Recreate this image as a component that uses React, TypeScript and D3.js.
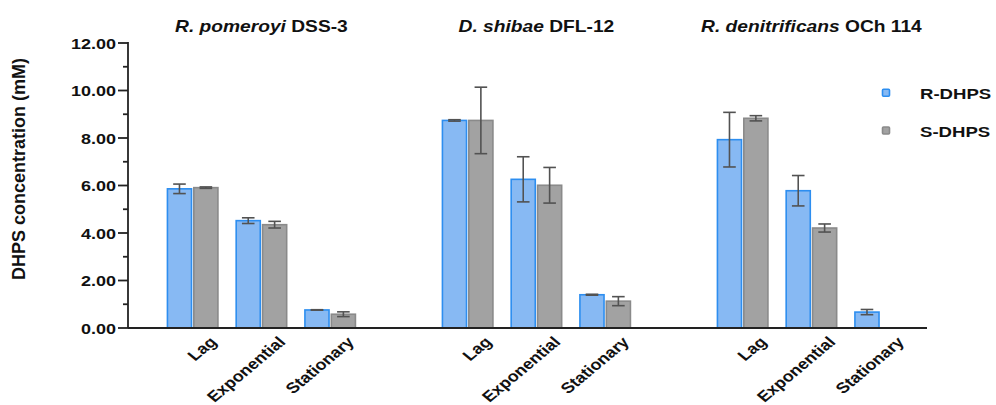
import React from "react";
import * as d3 from "d3";

const W = 996;
const H = 405;
const SX = 1.2; // the original figure is stretched horizontally

const strainItalic = ["R. pomeroyi", "D. shibae", "R. denitrificans"];
const strainCode = ["DSS-3", "DFL-12", "OCh 114"];
const phases = ["Lag", "Exponential", "Stationary"];
const seriesNames = ["R-DHPS", "S-DHPS"];

// values per strain x phase, in the order of strains then phases
const rMean = [5.86, 4.52, 0.76, 8.74, 6.26, 1.4, 7.93, 5.78, 0.67];
const rErr = [0.2, 0.12, 0.01, 0.03, 0.95, 0.02, 1.15, 0.64, 0.11];
const sMean = [5.91, 4.35, 0.58, 8.74, 6.01, 1.13, 8.83, 4.21, 0.0];
const sErr = [0.03, 0.14, 0.1, 1.4, 0.75, 0.19, 0.11, 0.17, 0.0];

const yTicks = [0, 2, 4, 6, 8, 10, 12];
const yMinor = [1, 3, 5, 7, 9, 11];

const FILLS = ["#87b9f3", "#a2a2a2"];
const STROKES = ["#2d8ef0", "#8a8a8a"];
const FONT = "'Liberation Sans', Arial, sans-serif";

function SText({ x, y, rotate = 0, anchor = "start", size = 16, sx = SX, children }: any) {
  return (
    <text
      transform={`translate(${x},${y}) scale(${sx},1) rotate(${rotate})`}
      textAnchor={anchor}
      fontSize={size}
      fontWeight="bold"
      fontFamily={FONT}
      fill="#111"
    >
      {children}
    </text>
  );
}

export default function App() {
  const axisX = 128;
  const axisEnd = 927;

  const y = d3.scaleLinear().domain([0, 12]).range([328, 43]);

  const xGroup = d3.scaleBand().domain(strainCode).range([158.3, 158.3 + 275 * 3]);
  const xPhase = d3.scaleBand().domain(phases).range([0, (xGroup.bandwidth() * 3) / 4]);
  const xSub = d3.scaleBand().domain(seriesNames).range([-26, 26]).paddingInner(0.03);

  const means = [rMean, sMean];
  const errs = [rErr, sErr];

  const bars: any[] = [];
  const errorBars: any[] = [];
  strainCode.forEach((code, gi) => {
    phases.forEach((ph, pi) => {
      const idx = gi * 3 + pi;
      const cx = (xGroup(code) || 0) + (xPhase(ph) || 0) + xPhase.bandwidth() / 2;
      seriesNames.forEach((s, si) => {
        const v = means[si][idx];
        const e = errs[si][idx];
        const bx = cx + (xSub(s) || 0);
        const bw = xSub.bandwidth();
        bars.push(
          <rect
            key={`b-${idx}-${si}`}
            x={bx + 0.75}
            y={y(v)}
            width={bw - 1.5}
            height={y(0) - y(v)}
            fill={FILLS[si]}
            stroke={STROKES[si]}
            strokeWidth={1.6}
          />
        );
        if (e > 0) {
          const mx = bx + bw / 2;
          errorBars.push(
            <g key={`e-${idx}-${si}`} stroke="#525252" strokeWidth={1.6}>
              <line x1={mx} x2={mx} y1={y(v + e)} y2={y(v - e)} />
              <line x1={mx - 6.3} x2={mx + 6.3} y1={y(v + e)} y2={y(v + e)} />
              <line x1={mx - 6.3} x2={mx + 6.3} y1={y(v - e)} y2={y(v - e)} />
            </g>
          );
        }
      });
    });
  });

  return (
    <svg
      width={W}
      height={H}
      style={{ position: "absolute", left: 0, top: 0, background: "#fff" }}
    >
      {/* titles */}
      {strainCode.map((code, gi) => {
        const cx = (xGroup(code) || 0) + (xGroup.bandwidth() * 3) / 8;
        return (
          <SText key={code} x={cx} y={31.5} anchor="middle" size={16}>
            <tspan fontStyle="italic">{strainItalic[gi]}</tspan> {code}
          </SText>
        );
      })}

      {bars}
      {errorBars}

      {/* y axis */}
      <g stroke="#222" strokeWidth={1.8}>
        <line x1={axisX} x2={axisX} y1={y(12) - 0.9} y2={y(0)} />
        {yTicks.map((t) => (
          <line key={t} x1={axisX - 10} x2={axisX} y1={y(t)} y2={y(t)} />
        ))}
        {yMinor.map((t) => (
          <line key={t} x1={axisX - 5} x2={axisX} y1={y(t)} y2={y(t)} />
        ))}
        <line x1={axisX} x2={axisEnd} y1={y(0)} y2={y(0)} />
      </g>
      {yTicks.map((t) => (
        <SText key={t} x={116} y={y(t) + 5.5} anchor="end" size={15}>
          {t.toFixed(2)}
        </SText>
      ))}
      <text
        transform={`translate(25,169) rotate(-90)`}
        textAnchor="middle"
        fontSize={18}
        fontWeight="bold"
        fontFamily={FONT}
        fill="#111"
      >
        DHPS concentration (mM)
      </text>

      {/* x category labels */}
      {strainCode.map((code, gi) =>
        phases.map((ph) => {
          const cx = (xGroup(code) || 0) + (xPhase(ph) || 0) + xPhase.bandwidth() / 2;
          return (
            <SText key={code + ph} x={cx + 25} y={343} anchor="end" rotate={-45} size={15}>
              {ph}
            </SText>
          );
        })
      )}

      {/* legend */}
      {seriesNames.map((s, si) => {
        const cy = [92.7, 130.5][si];
        return (
          <g key={s}>
            <rect
              x={882.5}
              y={cy - 3.5}
              width={7}
              height={7}
              rx={1}
              fill={FILLS[si]}
              stroke={STROKES[si]}
              strokeWidth={1.6}
            />
            <SText x={920} y={cy + 6.3} size={15.5}>
              {s}
            </SText>
          </g>
        );
      })}
    </svg>
  );
}
